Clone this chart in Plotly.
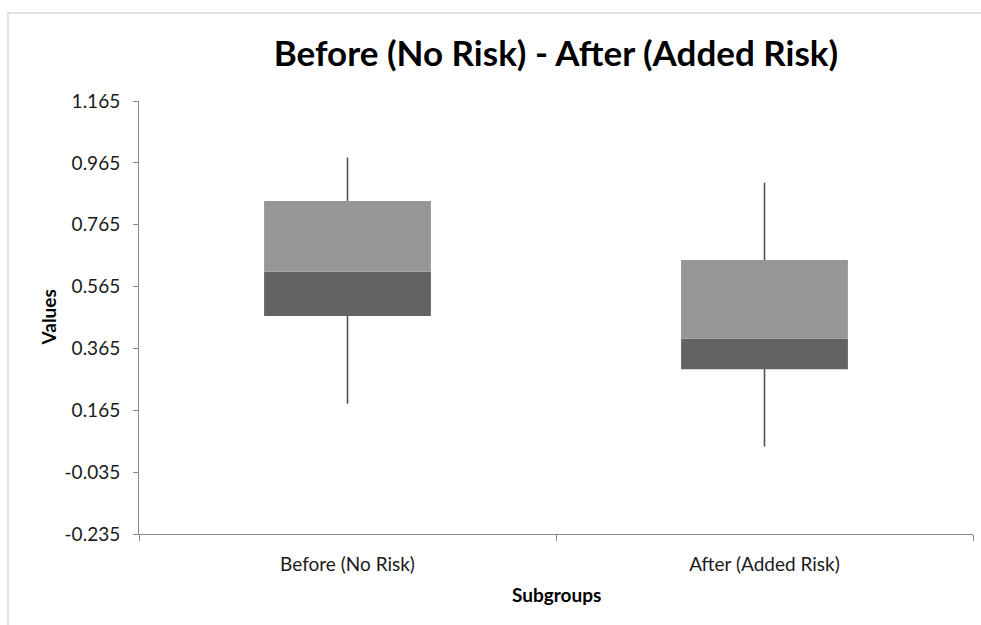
import plotly.graph_objects as go

# ---- data ----
categories = ["Before (No Risk)", "After (Added Risk)"]
minimum = [0.186, 0.048]
q1 = [0.470, 0.298]
median = [0.613, 0.396]
q3 = [0.842, 0.651]
maximum = [0.982, 0.901]
y_ticks = [-0.235, -0.035, 0.165, 0.365, 0.565, 0.765, 0.965, 1.165]

FONT = "Lato"
DARK = "#636363"
LIGHT = "#969696"
AXIS = "#898989"

fig = go.Figure()

# lower box segment (Q1 -> median)
fig.add_trace(go.Bar(
    x=categories,
    y=[m - a for m, a in zip(median, q1)],
    base=q1,
    marker=dict(color=DARK, line=dict(width=0)),
    width=0.4,
    showlegend=False,
    hoverinfo="skip",
))
# upper box segment (median -> Q3)
fig.add_trace(go.Bar(
    x=categories,
    y=[b - m for b, m in zip(q3, median)],
    base=median,
    marker=dict(color=LIGHT, line=dict(width=0)),
    width=0.4,
    showlegend=False,
    hoverinfo="skip",
))

# whiskers
wx, wy = [], []
for c, lo, a, b, hi in zip(categories, minimum, q1, q3, maximum):
    wx += [c, c, None, c, c, None]
    wy += [lo, a, None, b, hi, None]
fig.add_trace(go.Scatter(
    x=wx, y=wy, mode="lines",
    line=dict(color="#505050", width=1.6),
    showlegend=False, hoverinfo="skip",
))

fig.update_layout(
    width=981, height=625,
    margin=dict(l=139, r=8, t=101, b=91),
    paper_bgcolor="white", plot_bgcolor="white",
    barmode="overlay",
    font=dict(family=FONT, color="#000000"),
    title=dict(
        text="<b>Before (No Risk) - After (Added Risk)</b>",
        font=dict(family=FONT, size=35, color="#000000"),
        x=0.5, xanchor="center", xref="paper",
        y=1 - 54 / 625, yanchor="middle",
    ),
    xaxis=dict(
        type="category",
        tickson="boundaries",
        ticks="outside", ticklen=6, tickcolor=AXIS,
        showline=True, linecolor=AXIS, linewidth=1,
        showgrid=False, zeroline=False,
        tickfont=dict(family=FONT, size=19, color="#1a1a1a"),
        ticklabelstandoff=13,
        range=[-0.5, 1.5],
    ),
    yaxis=dict(
        range=[y_ticks[0], y_ticks[-1]],
        tickvals=y_ticks,
        ticktext=[f"{v:.3f}" for v in y_ticks],
        ticks="outside", ticklen=5, tickcolor=AXIS,
        showline=True, linecolor=AXIS, linewidth=1,
        showgrid=False, zeroline=False,
        tickfont=dict(family=FONT, size=19, color="#1a1a1a"),
        ticklabelstandoff=9,
    ),
    annotations=[
        dict(text="<b>Subgroups</b>", xref="paper", yref="paper",
             x=0.5, y=0, yshift=-60, xanchor="center", yanchor="middle",
             showarrow=False, font=dict(family=FONT, size=19, color="#000")),
        dict(text="<b>Values</b>", xref="paper", yref="paper",
             x=0, y=0.5, xshift=-91, xanchor="center", yanchor="middle",
             textangle=-90,
             showarrow=False, font=dict(family=FONT, size=19, color="#000")),
    ],
    shapes=[
        dict(type="rect", xref="paper", yref="paper",
             xsizemode="pixel", ysizemode="pixel",
             xanchor=0, yanchor=1,
             x0=-131, x1=900, y0=-700, y1=88,
             line=dict(color="#d9d9d9", width=1.5),
             fillcolor="rgba(0,0,0,0)", layer="below"),
    ],
)

fig.write_html(
    "out.html",
    config={"displayModeBar": False},
    post_script="document.body.style.margin='0';document.body.style.overflow='hidden';",
)
